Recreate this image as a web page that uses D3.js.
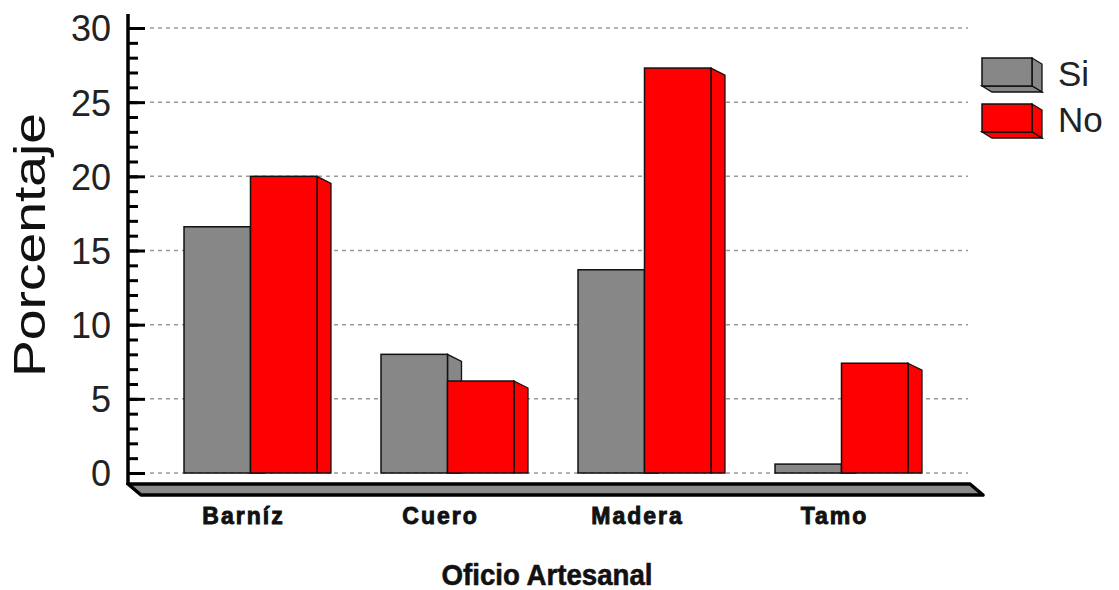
<!DOCTYPE html>
<html><head><meta charset="utf-8">
<script src="https://cdn.jsdelivr.net/npm/d3@7"></script>
<style>
html,body{margin:0;padding:0;background:#fff;}
svg{display:block;}
</style></head>
<body>
<svg id="chart" width="1119" height="590"></svg>
<script>
const categories = ["Barníz", "Cuero", "Madera", "Tamo"];
const seriesNames = ["Si", "No"];
const siValues = [16.6, 8.0, 13.7, 0.6];
const noValues = [20.0, 6.2, 27.3, 7.4];
const yTicks = [0, 5, 10, 15, 20, 25, 30];
const seriesColors = ["#878787", "#ff0000"];
const yTitle = "Porcentaje";
const xTitle = "Oficio Artesanal";

const svg = d3.select("#chart");
const axisX = 128;
const y = d3.scaleLinear().domain([0, 30]).range([473, 28]);
const x = d3.scaleBand().domain(categories).range([152, 940]).paddingInner(0.325).paddingOuter(0.1625);
const xs = d3.scaleBand().domain(seriesNames).range([0, x.bandwidth()]);
const color = d3.scaleOrdinal().domain(seriesNames).range(seriesColors);
const depthX = 14, depthY = 7;

// gridlines
svg.append("g").selectAll("line").data(yTicks).join("line")
  .attr("x1", 150).attr("x2", 968)
  .attr("y1", d => y(d)).attr("y2", d => y(d))
  .attr("stroke", "#9a9a9a").attr("stroke-width", 1.5).attr("stroke-dasharray", "4,4");

// bars
const rows = categories.map((c, i) => ({cat: c, vals: [siValues[i], noValues[i]]}));
const barG = svg.append("g");
rows.forEach(r => {
  seriesNames.forEach((s, j) => {
    const v = r.vals[j];
    const x0 = x(r.cat) + xs(s);
    const x1 = x0 + xs.bandwidth();
    const yt = y(v), yb = y(0);
    const c = color(s);
    barG.append("polygon")
      .attr("points", [[x1, yt], [x1 + depthX, yt + depthY], [x1 + depthX, yb], [x1, yb]].map(p => p.join(",")).join(" "))
      .attr("fill", c).attr("stroke", "#111").attr("stroke-width", 1.3);
    barG.append("rect")
      .attr("x", x0).attr("y", yt).attr("width", x1 - x0).attr("height", yb - yt)
      .attr("fill", c).attr("stroke", "#111").attr("stroke-width", 1.5);
  });
});

// y axis ticks
const minorAxis = d3.axisRight(y).tickValues(d3.range(0, 31)).tickSize(10).tickFormat("");
const majorAxis = d3.axisRight(y).tickValues(yTicks).tickSize(17).tickFormat("");
const gMin = svg.append("g").attr("transform", `translate(${axisX},0)`).call(minorAxis);
const gMaj = svg.append("g").attr("transform", `translate(${axisX},0)`).call(majorAxis);
[gMin, gMaj].forEach(g => {
  g.select(".domain").remove();
  g.selectAll(".tick line").attr("stroke", "#000").attr("stroke-width", 3);
});
const labelAxis = d3.axisLeft(y).tickValues(yTicks).tickSize(0).tickPadding(17);
const gLab = svg.append("g").attr("transform", `translate(${axisX},0)`).call(labelAxis);
gLab.select(".domain").remove();
gLab.selectAll(".tick text")
  .attr("font-family", "'Liberation Sans', Arial, sans-serif")
  .attr("font-size", 36).attr("fill", "#222").attr("dy", "0.36em");

// vertical axis line
svg.append("line").attr("x1", axisX).attr("x2", axisX).attr("y1", 14).attr("y2", 485)
  .attr("stroke", "#000").attr("stroke-width", 3.5);

// base slab
svg.append("polygon")
  .attr("points", [[axisX, 484], [970, 484], [983, 495], [141, 495]].map(p => p.join(",")).join(" "))
  .attr("fill", "#8a8a8a").attr("stroke", "#000").attr("stroke-width", 3.5).attr("stroke-linejoin", "round");

// category labels
svg.append("g").selectAll("text").data(categories).join("text")
  .attr("x", d => x(d) + x.bandwidth() / 2 - 7)
  .attr("y", 524)
  .attr("text-anchor", "middle")
  .attr("font-family", "'Liberation Sans', Arial, sans-serif")
  .attr("font-weight", "bold").attr("font-size", 23).attr("letter-spacing", 2)
  .attr("fill", "#111").attr("stroke", "#111").attr("stroke-width", 0.9)
  .text(d => d);

// axis titles
svg.append("text")
  .attr("transform", "translate(45,245) rotate(-90)")
  .attr("text-anchor", "middle")
  .attr("font-family", "'Liberation Sans', Arial, sans-serif")
  .attr("font-size", 45).attr("fill", "#111")
  .attr("textLength", 264).attr("lengthAdjust", "spacingAndGlyphs")
  .text(yTitle);

svg.append("text")
  .attr("x", 547).attr("y", 585)
  .attr("text-anchor", "middle")
  .attr("font-family", "'Liberation Sans Narrow', 'Liberation Sans', Arial, sans-serif")
  .attr("font-weight", "bold").attr("font-size", 30).attr("fill", "#111")
  .attr("stroke", "#111").attr("stroke-width", 0.6)
  .attr("textLength", 211).attr("lengthAdjust", "spacingAndGlyphs")
  .text(xTitle);

// legend
const legY = d3.scaleOrdinal().domain(seriesNames).range([58, 104]);
const lg = svg.append("g");
seriesNames.forEach(s => {
  const bx = 982, by = legY(s), bw = 50, bh = 28, dx = 10, dy = 6;
  const c = color(s);
  lg.append("polygon")
    .attr("points", [[bx + bw, by], [bx + bw + dx, by + dy], [bx + bw + dx, by + bh + dy], [bx + bw, by + bh]].map(p => p.join(",")).join(" "))
    .attr("fill", c).attr("stroke", "#111").attr("stroke-width", 1.3);
  lg.append("polygon")
    .attr("points", [[bx, by + bh], [bx + bw, by + bh], [bx + bw + dx, by + bh + dy], [bx + dx, by + bh + dy]].map(p => p.join(",")).join(" "))
    .attr("fill", c).attr("stroke", "#111").attr("stroke-width", 1.3);
  lg.append("rect").attr("x", bx).attr("y", by).attr("width", bw).attr("height", bh)
    .attr("fill", c).attr("stroke", "#111").attr("stroke-width", 1.5);
  lg.append("text").attr("x", 1058).attr("y", by + 28)
    .attr("font-family", "'Liberation Sans', Arial, sans-serif")
    .attr("font-size", 35).attr("fill", "#222").text(s);
});
</script>
</body></html>
